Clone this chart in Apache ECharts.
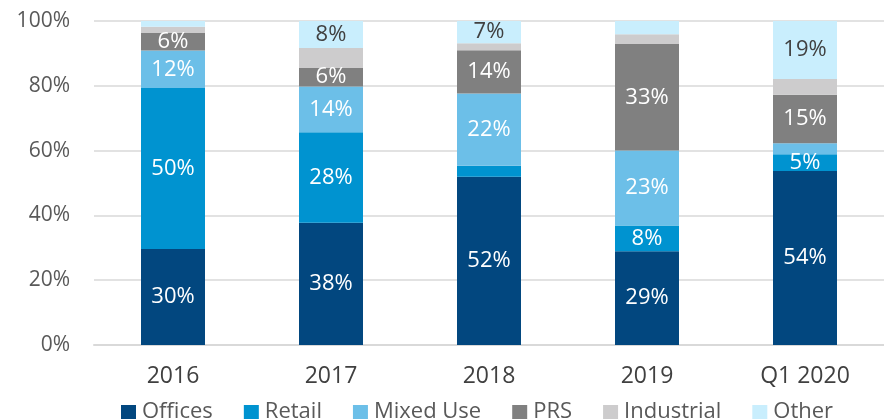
<!DOCTYPE html>
<html>
<head>
<meta charset="utf-8">
<script src="https://cdn.jsdelivr.net/npm/echarts@6/dist/echarts.min.js"></script>
<style>
  html, body { margin: 0; padding: 0; background: #fff; }
  #main { width: 884px; height: 419px; }
</style>
</head>
<body>
<div id="main"></div>
<script>
// categories and shares (%)
const categories = ['2016', '2017', '2018', '2019', 'Q1 2020'];
const offices    = [29.6, 37.7, 51.9, 28.9, 53.7];
const retail     = [49.7, 28.0, 3.4, 8.0, 5.2];
const mixedUse   = [11.6, 14.1, 22.3, 23.1, 3.4];
const prs        = [5.4, 5.7, 13.4, 32.9, 14.9];
const industrial = [1.9, 6.2, 2.1, 3.0, 4.9];
const other      = [1.8, 8.3, 6.9, 4.1, 17.9];

// printed labels (empty = no label)
const officesLabels    = ['30%', '38%', '52%', '29%', '54%'];
const retailLabels     = ['50%', '28%', '', '8%', '5%'];
const mixedUseLabels   = ['12%', '14%', '22%', '23%', ''];
const prsLabels        = ['6%', '6%', '14%', '33%', '15%'];
const industrialLabels = ['', '', '', '', ''];
const otherLabels      = ['', '8%', '7%', '', '19%'];

const yTicks = [0, 20, 40, 60, 80, 100];

const FONT = '"Open Sans", "Noto Sans", sans-serif';

var chart = echarts.init(document.getElementById('main'), null, { renderer: 'canvas' });

function bar(name, data, labels, color, textColor) {
    return {
        name: name,
        type: 'bar',
        stack: 'total',
        barWidth: 64,
        data: data,
        itemStyle: { color: color },
        label: {
            show: true,
            position: 'inside',
            color: textColor,
            fontFamily: FONT,
            fontSize: 22,
            formatter: function (p) { return labels[p.dataIndex]; }
        },
        emphasis: { disabled: true }
    };
}

var option = {
    animation: false,
    grid: {
        left: 94,
        top: 21,
        width: 810,
        bottom: 74
    },
    legend: {
        left: 116,
        top: 396,
        icon: 'rect',
        itemWidth: 15,
        itemHeight: 14,
        itemGap: 31,
        textStyle: { color: '#595959', fontFamily: FONT, fontSize: 22, padding: [0, 0, 0, 1] },
        data: ['Offices', 'Retail', 'Mixed Use', 'PRS', 'Industrial', 'Other']
    },
    xAxis: {
        type: 'category',
        data: categories,
        axisLine: { lineStyle: { color: '#d9d9d9', width: 2 } },
        axisTick: { show: false },
        axisLabel: { color: '#404040', fontFamily: FONT, fontSize: 23, margin: 20 }
    },
    yAxis: {
        type: 'value',
        min: yTicks[0],
        max: yTicks[yTicks.length - 1],
        interval: 20,
        axisLine: { show: false },
        axisTick: { show: false },
        splitLine: { lineStyle: { color: '#d9d9d9', width: 1.5 } },
        axisLabel: {
            color: '#595959',
            fontFamily: FONT,
            fontSize: 21,
            margin: 24,
            formatter: '{value}%'
        }
    },
    series: [
        bar('Offices', offices, officesLabels, '#02477f', '#ffffff'),
        bar('Retail', retail, retailLabels, '#0093d0', '#ffffff'),
        bar('Mixed Use', mixedUse, mixedUseLabels, '#6cbfe8', '#ffffff'),
        bar('PRS', prs, prsLabels, '#808080', '#ffffff'),
        bar('Industrial', industrial, industrialLabels, '#cdcccd', '#404040'),
        bar('Other', other, otherLabels, '#c9eefd', '#404040')
    ]
};

chart.setOption(option);
</script>
</body>
</html>
